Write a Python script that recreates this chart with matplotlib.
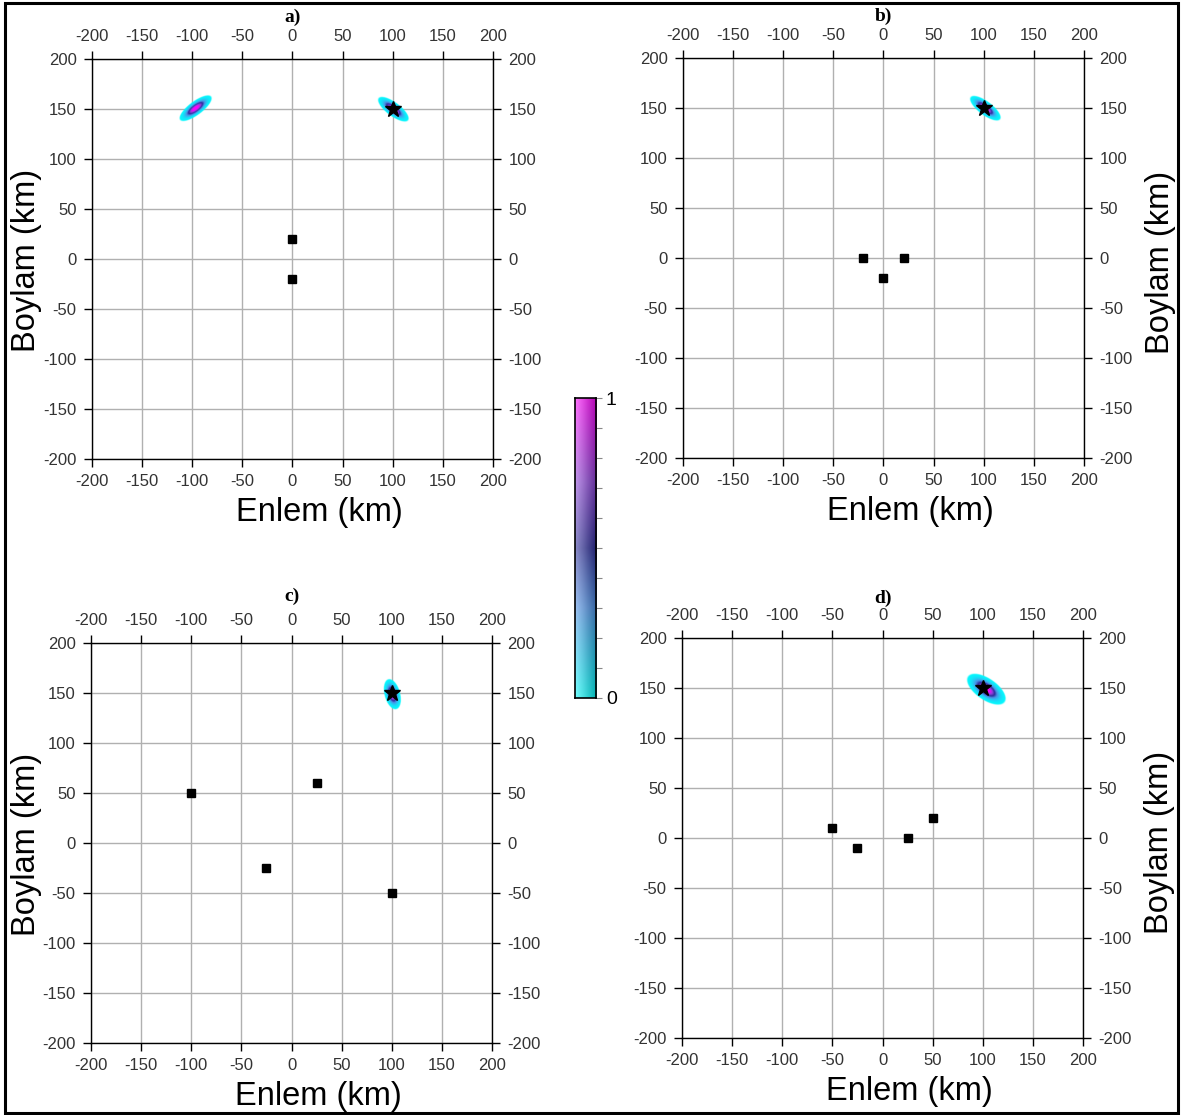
import numpy as np
import matplotlib
matplotlib.use('Agg')
from matplotlib import pyplot as plt
from matplotlib.colors import LinearSegmentedColormap
from matplotlib.patches import Rectangle

plt.rcParams['font.family'] = ['Liberation Sans', 'DejaVu Sans']
plt.rcParams['axes.unicode_minus'] = False

panel_names = ['a)', 'b)', 'c)', 'd)']
axis_ticks = [-200, -150, -100, -50, 0, 50, 100, 150, 200]

# station positions (km)
sta_x = [[0, 0],
         [-20, 0, 20],
         [-100, 25, -25, 100],
         [-50, -25, 25, 50]]
sta_y = [[20, -20],
         [0, -20, 0],
         [50, 60, -25, -50],
         [10, -10, 0, 20]]

# true source
src_x = 100
src_y = 150

# location probability blobs: centre x, centre y, half length, half width, angle (deg)
blob_cx = [[-97, 100], [101], [100], [103]]
blob_cy = [[151, 150], [150], [149], [149]]
blob_len = [[20, 19], [19], [16], [23]]
blob_wid = [[7, 7], [7], [8], [11]]
blob_ang = [[37, -37], [-37], [-75], [-35]]

cmap_pts = [(0.0, '#00ffff'), (0.3, '#4a90e8'), (0.5, '#2a2a9a'),
            (0.72, '#8a40d8'), (1.0, '#ff00ff')]
prob_cmap = LinearSegmentedColormap.from_list('prob', cmap_pts)

# axes rectangles in figure fraction
axes_pos = [[0.0778, 0.5883, 0.3393, 0.3587],
            [0.5778, 0.5892, 0.3393, 0.3587],
            [0.0770, 0.0646, 0.3393, 0.3587],
            [0.5770, 0.0691, 0.3393, 0.3587]]
title_y = [1.105, 1.105, 1.117, 1.1]


def prob_image(cxs, cys, lens, wids, angs):
    g = np.arange(-200, 200.5, 0.5)
    X, Y = np.meshgrid(g, g)
    P = np.zeros_like(X)
    thr = 0.05
    k = np.sqrt(-2 * np.log(thr))
    for cx, cy, L, W, a in zip(cxs, cys, lens, wids, angs):
        t = np.deg2rad(a)
        u = (X - cx) * np.cos(t) + (Y - cy) * np.sin(t)
        v = -(X - cx) * np.sin(t) + (Y - cy) * np.cos(t)
        p = np.exp(-0.5 * ((u / (L / k)) ** 2 + (v / (W / k)) ** 2))
        P = np.maximum(P, p)
    rgba = prob_cmap(np.clip(P ** 1.5 * 1.1, 0, 1))
    rgba[..., 3] = np.clip((P - thr) / 0.025, 0, 1)
    return rgba


fig = plt.figure(figsize=(11.82, 11.15), dpi=100)
fig.patches.append(Rectangle((0.004, 0.002), 0.993, 0.995, transform=fig.transFigure,
                             fill=False, ec='black', lw=2.2, zorder=10))

for i in range(4):
    ax = fig.add_axes(axes_pos[i])
    img = prob_image(blob_cx[i], blob_cy[i], blob_len[i], blob_wid[i], blob_ang[i])
    ax.imshow(img, extent=(-200, 200, -200, 200), origin='lower',
              interpolation='bilinear', zorder=2)
    ax.plot(sta_x[i], sta_y[i], 's', color='black', ms=5.5, zorder=4)
    ax.plot(src_x, src_y, '*', color='black', ms=12, zorder=5)
    ax.set_xlim(-200, 200)
    ax.set_ylim(-200, 200)
    ax.set_aspect('auto')
    ax.set_xticks(axis_ticks)
    ax.set_yticks(axis_ticks)
    ax.grid(True, color='#b0b0b0', lw=1.0, zorder=1)
    ax.set_axisbelow(True)
    ax.tick_params(direction='out', length=6, width=1, labelsize=12, pad=5,
                   top=True, right=True, labeltop=True, labelright=True,
                   labelcolor='#333333')
    for s in ax.spines.values():
        s.set_linewidth(1.0)
    ax.set_xlabel('Enlem (km)', fontsize=23.5, va='center')
    ax.xaxis.set_label_coords(0.567, -0.133)
    ax.set_ylabel('Boylam (km)', fontsize=23.5)
    if i % 2 == 1:
        ax.yaxis.set_label_position('right')
        ax.yaxis.set_label_coords(1.19, 0.49)
    else:
        ax.yaxis.set_label_coords(-0.162, 0.497)
    ax.yaxis.label.set_va('center')
    ax.yaxis.label.set_rotation(90)
    ax.text(0.5, title_y[i], panel_names[i], transform=ax.transAxes, ha='center', va='center',
            fontsize=14, fontweight='bold', family='Liberation Serif')

# colour scale with side shading
cax = fig.add_axes([0.4865, 0.374, 0.0178, 0.269])
vals = np.linspace(0, 1, 256)
base = prob_cmap(vals)[:, :3]
cols = np.linspace(0, 1, 20)
light = base + 0.45 * (1 - base)
dark = base * 0.7
bar = light[:, None, :] * (1 - cols[None, :, None]) + dark[:, None, :] * cols[None, :, None]
cax.imshow(bar, extent=(0, 1, 0, 1), origin='lower', aspect='auto')
cax.set_xticks([])
cax.yaxis.tick_right()
cax.set_yticks(np.linspace(0, 1, 11))
cax.set_yticklabels(['0'] + [''] * 9 + ['1'], fontsize=14)
cax.tick_params(axis='y', direction='out', length=4, width=0.8, color='#888888', pad=3)
for s in cax.spines.values():
    s.set_linewidth(1.2)

fig.savefig('out.png', dpi=100)
